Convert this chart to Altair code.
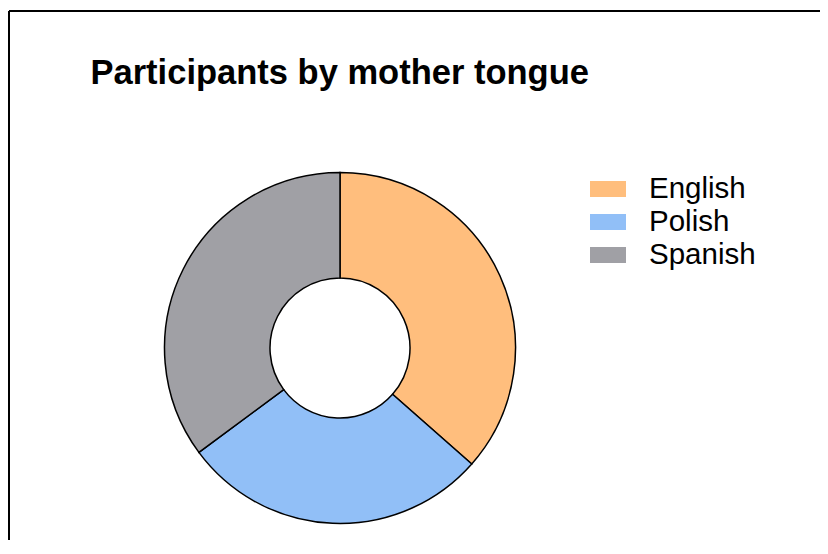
import altair as alt
import pandas as pd

languages = ["English", "Polish", "Spanish"]
participants = [27, 21, 26]
colors = ["#FFBE7D", "#91BFF7", "#A0A0A5"]

df = pd.DataFrame({"language": languages, "participants": participants})

W, H = 812, 532

donut = alt.Chart(df).mark_arc(
    innerRadius=70, outerRadius=175.5, stroke="black", strokeWidth=1.5
).encode(
    theta=alt.Theta("participants:Q", stack=True),
    color=alt.Color(
        "language:N",
        scale=alt.Scale(domain=languages, range=colors),
        legend=alt.Legend(
            title=None,
            orient="none",
            legendX=585,
            legendY=166,
            symbolType="M-1.2,-0.533H1.2V0.533H-1.2Z",
            symbolSize=900,
            symbolStrokeWidth=0,
            symbolStrokeColor="transparent",
            symbolOpacity=1,
            labelFontSize=29.5,
            labelFont="Liberation Sans",
            labelColor="black",
            labelOffset=26,
            rowPadding=3,
        ),
    ),
    order=alt.Order("language:N"),
    x=alt.value(332),
    y=alt.value(340),
)

frame_data = alt.Data(values=[{}])
left = alt.Chart(frame_data).mark_rule(color="black", strokeWidth=2).encode(
    x=alt.value(1), y=alt.value(3), y2=alt.value(H)
)
top = alt.Chart(frame_data).mark_rule(color="black", strokeWidth=2).encode(
    x=alt.value(1), x2=alt.value(W), y=alt.value(3)
)

chart = alt.layer(left, top, donut).properties(
    width=W,
    height=H,
    autosize=alt.AutoSizeParams(type="none"),
    padding=0,
    title=alt.Title(
        "Participants by mother tongue",
        anchor="start",
        frame="group",
        fontSize=34.5,
        font="Liberation Sans",
        fontWeight="bold",
        color="black",
        baseline="alphabetic",
        offset=0,
        dx=82.5,
        dy=110,
    ),
).configure_view(strokeWidth=0)

chart.save("out.html", embed_options={"renderer": "svg", "actions": False})
